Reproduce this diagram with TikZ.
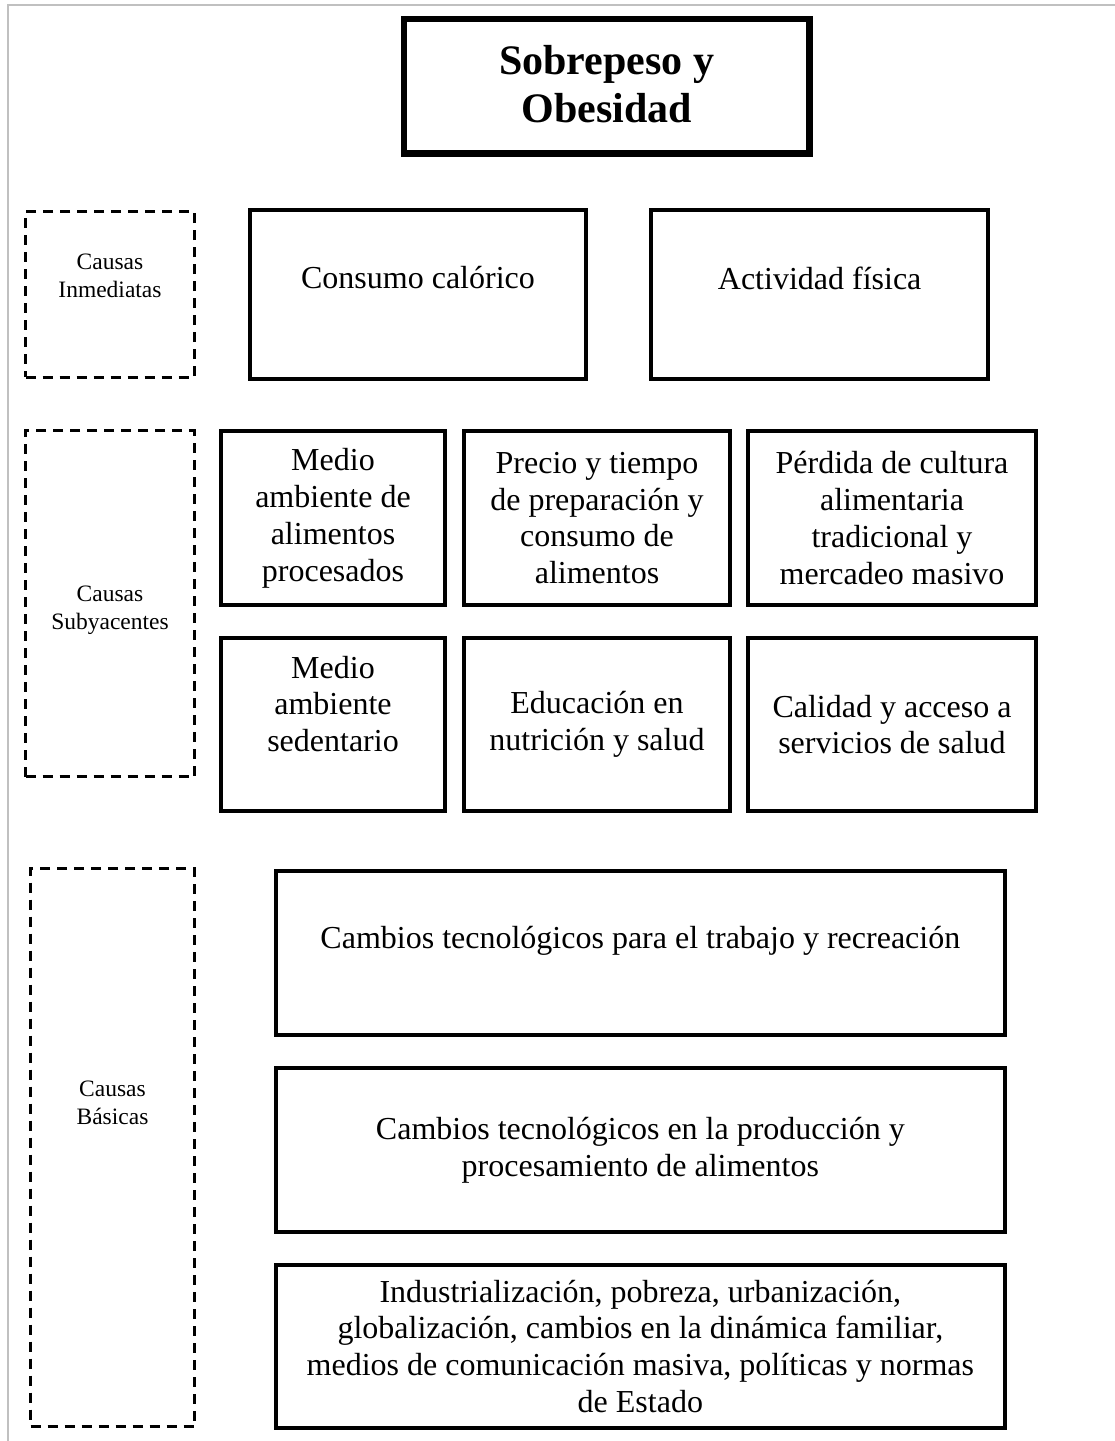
\documentclass[tikz,border=0pt]{standalone}
\usepackage{fontspec}
\setmainfont{Liberation Serif}
\definecolor{framegray}{RGB}{192,192,192}
\begin{document}
\begin{tikzpicture}[x=1pt,y=-1pt,
  box/.style={draw=black, line width=4pt, inner sep=0pt, outer sep=0pt, align=center,
              font=\fontsize{32}{36.8}\selectfont},
  titlebox/.style={draw=black, line width=6.5pt, inner sep=0pt, outer sep=0pt, align=center,
              font=\fontsize{42}{48}\selectfont\bfseries},
  dbox/.style={draw=black, line width=3pt, dash pattern=on 10pt off 7pt, inner sep=0pt, outer sep=0pt},
  txt/.style={align=center, inner sep=0pt, font=\fontsize{32}{36.8}\selectfont},
  lbl/.style={align=center, inner sep=0pt, font=\fontsize{23.5}{28}\selectfont},
  framestyle/.style={draw=framegray, line width=2pt}]
\useasboundingbox (0,0) rectangle (1115,1441);
% page frame
\draw[framestyle] (8,1441) -- (8,5) -- (1115,5);

% title
\node[titlebox, minimum width=405.5pt, minimum height=134.7pt] (title) at (606.75,86.35) {};
\node[align=center, inner sep=0pt, font=\fontsize{42}{48}\selectfont\bfseries] (titletext) at (606.75,84) {Sobrepeso y\\Obesidad};

% left dashed category boxes
\node[dbox, minimum width=169pt, minimum height=165.5pt] (inm) at (110,294.25) {};
\node[lbl] (inmtext) at (110,275.7) {Causas\\Inmediatas};
\node[dbox, minimum width=169pt, minimum height=345.7pt] (sub) at (110,603.65) {};
\node[lbl] (subtext) at (110,610) {Causas\\Subyacentes};
\node[dbox, minimum width=164pt, minimum height=558.5pt] (bas) at (112.5,1147.25) {};
\node[lbl] (bastext) at (112.5,1103) {Causas\\Básicas};

% immediate causes
\node[box, minimum width=336pt, minimum height=168.7pt] (consumo) at (418,294.35) {};
\node[txt] (consumotext) at (418,278) {Consumo calórico};
\node[box, minimum width=336.7pt, minimum height=168.7pt] (actividad) at (819.65,294.35) {};
\node[txt] (actividadtext) at (819.65,278) {Actividad física};

% underlying causes, row 1
\node[box, minimum width=223.4pt, minimum height=174.3pt] (medio1) at (333,518.15) {Medio\\ambiente de\\alimentos\\procesados};
\node[box, minimum width=266.6pt, minimum height=174.3pt] (precio) at (597,518.15) {Precio y tiempo\\de preparación y\\consumo de\\alimentos};
\node[box, minimum width=288.6pt, minimum height=174.3pt] (perdida) at (892,518.15) {Pérdida de cultura\\alimentaria\\tradicional y\\mercadeo masivo};

% underlying causes, row 2
\node[box, minimum width=223.4pt, minimum height=173.6pt] (medio2) at (333,724.5) {};
\node[txt] (medio2text) at (333,704) {Medio\\ambiente\\sedentario};
\node[box, minimum width=266.6pt, minimum height=173.6pt] (educ) at (597,724.5) {Educación en\\nutrición y salud};
\node[box, minimum width=288.6pt, minimum height=173.6pt] (calidad) at (892,724.5) {Calidad y acceso a\\servicios de salud};

% basic causes
\node[box, minimum width=728.7pt, minimum height=164pt] (b1) at (640.35,953.3) {};
\node[txt] (b1text) at (640.35,941) {Cambios tecnológicos para el trabajo y recreación};
\node[box, minimum width=728.7pt, minimum height=164.6pt] (b2) at (640.35,1150) {Cambios tecnológicos en la producción y\\procesamiento de alimentos};
\node[box, minimum width=728.7pt, minimum height=163.3pt] (b3) at (640.35,1346.35) {Industrialización, pobreza, urbanización,\\globalización, cambios en la dinámica familiar,\\medios de comunicación masiva, políticas y normas\\de Estado};
\end{tikzpicture}
\end{document}
